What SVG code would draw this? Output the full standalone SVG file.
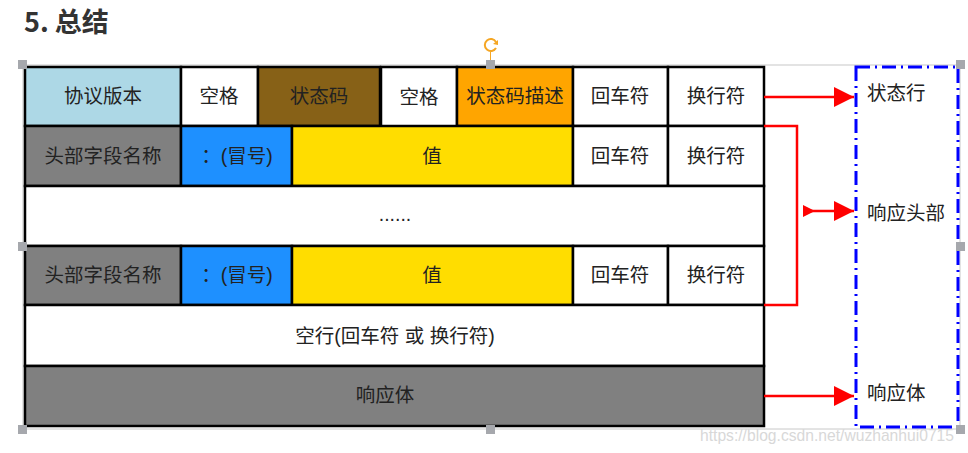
<svg xmlns="http://www.w3.org/2000/svg" width="968" height="453" viewBox="0 0 968 453">
<style>
.t{font-family:"Liberation Sans","Noto Sans CJK SC",sans-serif;font-size:19.5px;fill:#222;text-anchor:middle;dominant-baseline:central}
.c{stroke:#000;stroke-width:2.5}
.h{fill:#a6a8ad}
.lbl{font-family:"Liberation Sans","Noto Sans CJK SC",sans-serif;font-size:19.5px;fill:#222}
</style>
<defs>
<marker id="ah" viewBox="0 0 10 10" refX="10" refY="5" markerWidth="20" markerHeight="20" markerUnits="userSpaceOnUse" orient="auto">
<path d="M0,0L10,5L0,10z" fill="#f00"/>
</marker>
<marker id="tail" viewBox="0 0 10 10" refX="0" refY="5" markerWidth="12" markerHeight="12" markerUnits="userSpaceOnUse" orient="auto">
<path d="M0,0L10,5L0,10z" fill="#f00"/>
</marker>
</defs>
<rect width="968" height="453" fill="#fff"/>
<text x="24" y="32" font-family="'Noto Sans CJK SC',sans-serif" font-size="27" font-weight="bold" fill="#333">5. 总结</text>

<rect x="23" y="65" width="937" height="364" fill="none" stroke="#c8c8c8" stroke-width="1"/>

<g id="row1">
<g id="n-version"><rect class="c" x="25" y="67" width="156" height="59" fill="#add8e6"/><text class="t" x="103" y="96">协议版本</text></g>
<g id="n-sp1"><rect class="c" x="181" y="67" width="77" height="59" fill="#fff"/><text class="t" x="219" y="96">空格</text></g>
<g id="n-status"><rect class="c" x="258" y="67" width="122" height="59" fill="#876117"/><text class="t" x="319" y="96">状态码</text></g>
<g id="n-sp2"><rect class="c" x="381" y="67" width="76" height="60" fill="#fff"/><text class="t" x="419" y="97">空格</text></g>
<g id="n-desc"><rect class="c" x="457" y="67" width="116" height="59" fill="#ffa500"/><text class="t" x="515" y="96">状态码描述</text></g>
<g id="n-cr1"><rect class="c" x="573" y="67" width="95" height="59" fill="#fff"/><text class="t" x="620" y="96">回车符</text></g>
<g id="n-lf1"><rect class="c" x="668" y="67" width="96" height="59" fill="#fff"/><text class="t" x="716" y="96">换行符</text></g>
</g>

<g id="row2">
<g id="n-hname1"><rect class="c" x="25" y="126" width="156" height="60" fill="#808080"/><text class="t" x="103" y="156">头部字段名称</text></g>
<g id="n-colon1"><rect class="c" x="181" y="126" width="111" height="60" fill="#1e90ff"/><text class="t" x="237" y="156">：(冒号)</text></g>
<g id="n-val1"><rect class="c" x="292" y="126" width="281" height="60" fill="#ffdd00"/><text class="t" x="432" y="156">值</text></g>
<g id="n-cr2"><rect class="c" x="573" y="126" width="95" height="60" fill="#fff"/><text class="t" x="620" y="156">回车符</text></g>
<g id="n-lf2"><rect class="c" x="668" y="126" width="96" height="60" fill="#fff"/><text class="t" x="716" y="156">换行符</text></g>
</g>

<g id="n-dots"><rect class="c" x="25" y="186" width="739" height="60" fill="#fff"/><text class="t" x="395" y="214">......</text></g>

<g id="row4">
<g id="n-hname2"><rect class="c" x="25" y="246" width="156" height="59" fill="#808080"/><text class="t" x="103" y="275">头部字段名称</text></g>
<g id="n-colon2"><rect class="c" x="181" y="246" width="111" height="59" fill="#1e90ff"/><text class="t" x="237" y="275">：(冒号)</text></g>
<g id="n-val2"><rect class="c" x="292" y="246" width="281" height="59" fill="#ffdd00"/><text class="t" x="432" y="275">值</text></g>
<g id="n-cr3"><rect class="c" x="573" y="246" width="95" height="59" fill="#fff"/><text class="t" x="620" y="275">回车符</text></g>
<g id="n-lf3"><rect class="c" x="668" y="246" width="96" height="59" fill="#fff"/><text class="t" x="716" y="275">换行符</text></g>
</g>

<g id="n-empty"><rect class="c" x="25" y="305" width="739" height="61" fill="#fff"/><text class="t" x="395" y="336">空行(回车符 或 换行符)</text></g>
<g id="n-body"><rect class="c" x="25" y="366" width="739" height="60" fill="#808080"/><text class="t" x="385" y="395">响应体</text></g>

<g id="n-right">
<rect x="856" y="67" width="102" height="360" fill="none" stroke="#0000ff" stroke-width="3" stroke-dasharray="14,5,2,5"/>
<text class="lbl" x="867" y="100">状态行</text>
<text class="lbl" x="867" y="220">响应头部</text>
<text class="lbl" x="867" y="400">响应体</text>
</g>

<g id="connectors" fill="none" stroke="#f00" stroke-width="2.5">
<line x1="764" y1="97" x2="854" y2="97" marker-end="url(#ah)"/>
<polyline points="764,126 797,126 797,305 764,305"/>
<line x1="803" y1="211" x2="854" y2="211" marker-start="url(#tail)" marker-end="url(#ah)"/>
<line x1="764" y1="396" x2="854" y2="396" marker-end="url(#ah)"/>
</g>

<g id="handles">
<rect class="h" x="18" y="60" width="9" height="9"/>
<rect class="h" x="486" y="60" width="9" height="9"/>
<rect class="h" x="956" y="60" width="9" height="9"/>
<rect class="h" x="18" y="242" width="9" height="9"/>
<rect class="h" x="956" y="242" width="9" height="9"/>
<rect class="h" x="18" y="425" width="9" height="9"/>
<rect class="h" x="486" y="425" width="9" height="9"/>
<rect class="h" x="956" y="425" width="9" height="9"/>
<line x1="490.5" y1="52" x2="490.5" y2="60" stroke="#f5a623" stroke-width="1"/>
<path d="M496,42 A6,6 0 1 0 496,48" fill="none" stroke="#f5a623" stroke-width="2"/>
<path d="M493,44 L498,45 L498,40z" fill="#f5a623"/>
</g>
<text x="700" y="441" font-family="'Liberation Sans',sans-serif" font-size="17" fill="#d8d8d8" textLength="254" lengthAdjust="spacingAndGlyphs">https://blog.csdn.net/wuzhanhui0715</text>
</svg>
